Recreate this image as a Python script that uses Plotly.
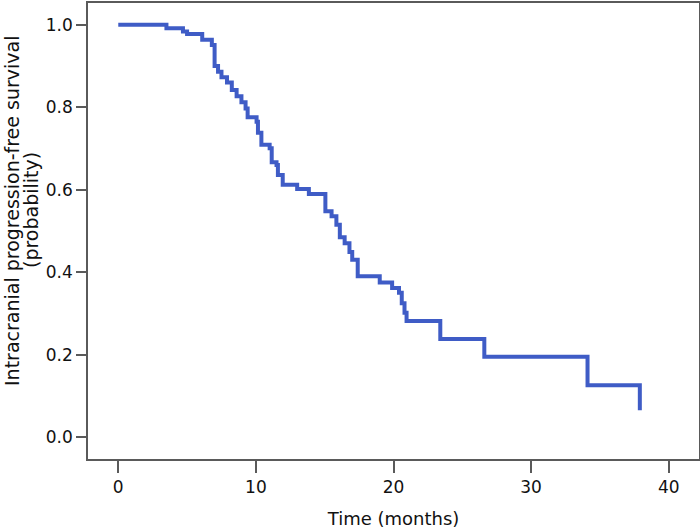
import plotly.graph_objects as go

# Kaplan-Meier step points (months, survival probability)
time_months = [0, 3.5, 4.7, 5.0, 6.1, 6.8, 7.0, 7.25, 7.5, 7.9, 8.25, 8.6, 8.95,
               9.25, 9.4, 10.05, 10.15, 10.4, 11.0, 11.15, 11.5, 11.6, 11.95,
               13.0, 13.85, 15.05, 15.5, 15.85, 16.1, 16.45, 16.8, 17.0, 17.4,
               19.0, 19.9, 20.4, 20.6, 20.8, 20.95, 23.4, 26.6, 34.1, 37.9]
survival = [1.0, 0.992, 0.984, 0.978, 0.964, 0.951, 0.900, 0.886, 0.873, 0.860,
            0.842, 0.827, 0.812, 0.797, 0.776, 0.765, 0.738, 0.709, 0.701, 0.667,
            0.660, 0.636, 0.612, 0.602, 0.590, 0.548, 0.536, 0.515, 0.485, 0.470,
            0.449, 0.430, 0.390, 0.375, 0.362, 0.350, 0.325, 0.302, 0.282, 0.238,
            0.195, 0.126, 0.065]

x_ticks = [0, 10, 20, 30, 40]
y_ticks = [0.0, 0.2, 0.4, 0.6, 0.8, 1.0]
y_title_lines = ["Intracranial progression-free survival", "(probability)"]

fig = go.Figure()
fig.add_trace(go.Scatter(
    x=time_months,
    y=survival,
    mode="lines",
    line=dict(color="#3f5cc6", width=4, shape="hv"),
    showlegend=False,
    hoverinfo="skip",
))

font_family = "DejaVu Sans, Open Sans, sans-serif"
text_color = "#111111"
axis_line = dict(showline=True, linecolor="#5a5a5a", linewidth=1.6, mirror=True,
                 ticks="outside", tickwidth=1.6, tickcolor="#5a5a5a",
                 showgrid=False, zeroline=False, automargin=False)

fig.update_xaxes(
    range=[-2.2, 42.2],
    tickvals=x_ticks,
    ticktext=[str(v) for v in x_ticks],
    ticklen=12,
    tickfont=dict(size=17, color=text_color, family=font_family),
    title=dict(text="Time (months)", font=dict(size=18, color=text_color, family=font_family),
               standoff=16),
    **axis_line,
)
fig.update_yaxes(
    range=[-0.053, 1.053],
    tickvals=y_ticks,
    ticktext=["%.1f" % v for v in y_ticks],
    ticklen=10,
    tickfont=dict(size=17, color=text_color, family=font_family),
    **axis_line,
)

# two-line rotated y title, written as annotations so the line gap stays tight
for line_text, x_pos in zip(y_title_lines, [-0.1244, -0.0933]):
    fig.add_annotation(
        text=line_text, textangle=-90,
        xref="paper", yref="paper", x=x_pos, y=0.546,
        xanchor="center", yanchor="middle", showarrow=False,
        font=dict(size=19, color=text_color, family=font_family),
    )

fig.update_layout(
    width=700,
    height=529,
    margin=dict(l=88, r=1, t=3, b=70),
    paper_bgcolor="white",
    plot_bgcolor="white",
)

fig.write_html("out.html", config={"displayModeBar": False},
               post_script="document.body.style.margin = '0';")
